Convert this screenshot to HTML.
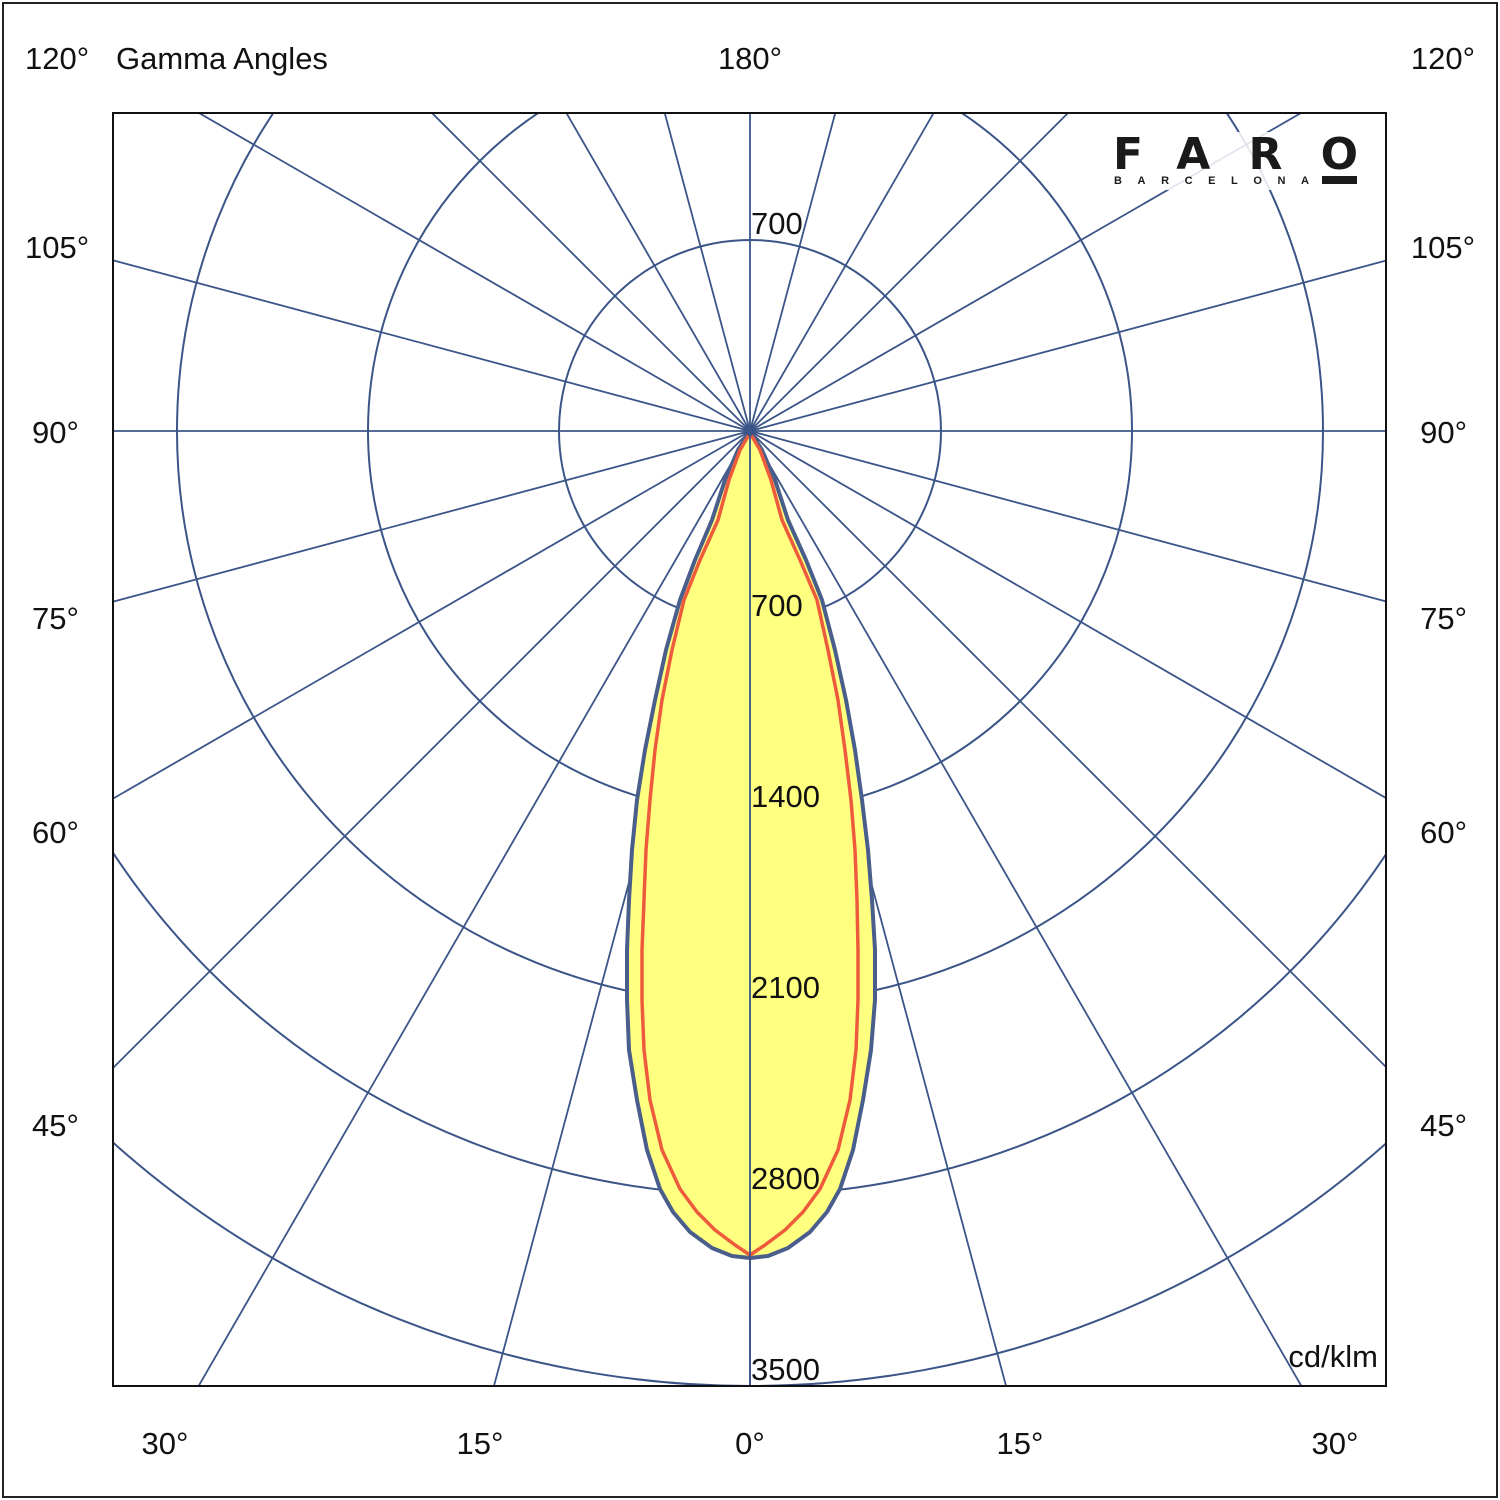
<!DOCTYPE html>
<html><head><meta charset="utf-8"><style>
html,body{margin:0;padding:0;background:#fff;overflow:hidden;width:1500px;height:1500px;}
svg{display:block;}
text{font-family:"Liberation Sans",Arial,sans-serif;fill:#111;}
</style></head><body>
<svg width="1500" height="1500" viewBox="0 0 1500 1500" xmlns="http://www.w3.org/2000/svg">
<rect x="3" y="3" width="1494" height="1494" fill="#fff" stroke="#222" stroke-width="2"/>
<defs><clipPath id="c"><rect x="113" y="113" width="1273" height="1273"/></clipPath></defs>
<g clip-path="url(#c)" stroke="#3b5588" stroke-width="2" fill="none">
<circle cx="750" cy="431" r="191"/><circle cx="750" cy="431" r="382"/><circle cx="750" cy="431" r="573"/><circle cx="750" cy="431" r="764"/><circle cx="750" cy="431" r="955"/>
</g>
<g clip-path="url(#c)" stroke="#3b5588" stroke-width="1.8">
<line x1="750" y1="431" x2="750" y2="-1000"/>
<line x1="750" y1="431" x2="750" y2="2000"/>
<line x1="750" y1="431" x2="-1000" y2="431"/>
<line x1="750" y1="431" x2="2500" y2="431"/>
<line x1="750" y1="431" x2="-1340" y2="-129"/><line x1="750" y1="431" x2="2840" y2="-129"/>
<line x1="750" y1="431" x2="-1340" y2="991"/><line x1="750" y1="431" x2="2840" y2="991"/>
<line x1="750" y1="431" x2="-1123" y2="-650"/><line x1="750" y1="431" x2="2623" y2="-650"/>
<line x1="750" y1="431" x2="-1123" y2="1512"/><line x1="750" y1="431" x2="2623" y2="1512"/>
<line x1="750" y1="431" x2="-1000" y2="-1319"/><line x1="750" y1="431" x2="2500" y2="-1319"/>
<line x1="750" y1="431" x2="-1000" y2="2181"/><line x1="750" y1="431" x2="2500" y2="2181"/>
<line x1="750" y1="431" x2="-250" y2="-1301"/><line x1="750" y1="431" x2="1750" y2="-1301"/>
<line x1="750" y1="431" x2="-250" y2="2163"/><line x1="750" y1="431" x2="1750" y2="2163"/>
<line x1="750" y1="431" x2="232" y2="-1501"/><line x1="750" y1="431" x2="1268" y2="-1501"/>
<line x1="750" y1="431" x2="232" y2="2363"/><line x1="750" y1="431" x2="1268" y2="2363"/>
</g>
<polygon fill="#ffff80" stroke="#4a5e8c" stroke-width="4" stroke-linejoin="round" points="750,431 738,450 725,480 712,520 695,560 680,600 666,650 655,700 645,750 637,800 632,850 629,900 627,950 627,1000 629,1050 637,1100 647,1150 660,1189 673,1212 690,1232 712,1248 732,1256 750,1258 768,1256 788,1248 810,1232 827,1212 840,1189 853,1150 863,1100 871,1050 875,1000 875,950 872,900 868,850 862,800 855,750 846,700 835,650 822,600 806,560 788,520 775,480 762,450"/>
<polyline fill="none" stroke="#ee5a3c" stroke-width="3.5" stroke-linejoin="round" points="750,433 740,450 729,480 718,520 700,560 684,600 672,650 662,700 655,750 650,800 646,850 644,900 642,950 642,1000 644,1050 650,1100 662,1150 680,1189 697,1212 715,1230 735,1245 750,1255 765,1245 785,1230 803,1212 820,1189 838,1150 850,1100 856,1050 858,1000 858,950 857,900 855,850 851,800 845,750 838,700 828,650 817,600 800,560 782,520 771,480 760,450 750,433"/>
<line x1="750" y1="431" x2="750" y2="1386" stroke="#3b5588" stroke-width="1.8"/>
<circle cx="750" cy="431" r="5" fill="#3b5588"/>
<rect x="113" y="113" width="1273" height="1273" fill="none" stroke="#111" stroke-width="2"/>
<g font-size="31">
<text x="751" y="234">700</text>
<text x="751" y="616">700</text>
<text x="751" y="807">1400</text>
<text x="751" y="998">2100</text>
<text x="751" y="1189">2800</text>
<text x="751" y="1380">3500</text>
<text x="1378" y="1367" text-anchor="end">cd/klm</text>
<text x="25" y="69">120°</text>
<text x="116" y="69">Gamma Angles</text>
<text x="750" y="69" text-anchor="middle">180°</text>
<text x="1475" y="69" text-anchor="end">120°</text>
<text x="25" y="258">105°</text><text x="1475" y="258" text-anchor="end">105°</text>
<text x="32" y="443">90°</text><text x="1467" y="443" text-anchor="end">90°</text>
<text x="32" y="629">75°</text><text x="1467" y="629" text-anchor="end">75°</text>
<text x="32" y="843">60°</text><text x="1467" y="843" text-anchor="end">60°</text>
<text x="32" y="1136">45°</text><text x="1467" y="1136" text-anchor="end">45°</text>
<text x="165" y="1454" text-anchor="middle">30°</text>
<text x="480" y="1454" text-anchor="middle">15°</text>
<text x="750" y="1454" text-anchor="middle">0°</text>
<text x="1020" y="1454" text-anchor="middle">15°</text>
<text x="1335" y="1454" text-anchor="middle">30°</text>
</g>
<rect x="1100" y="132" width="270" height="58" fill="#fff" opacity="0.85"/>
<g font-weight="bold">
<text x="1113" y="169" font-size="44" style="font-family:'DejaVu Sans',sans-serif;fill:#1a1a1a" textLength="245" lengthAdjust="spacing">FARO</text>
<text x="1114" y="184" font-size="11" style="fill:#1a1a1a" textLength="195" lengthAdjust="spacing">BARCELONA</text>
</g>
<rect x="1322" y="176" width="35" height="8" fill="#1a1a1a"/>
</svg>
</body></html>
